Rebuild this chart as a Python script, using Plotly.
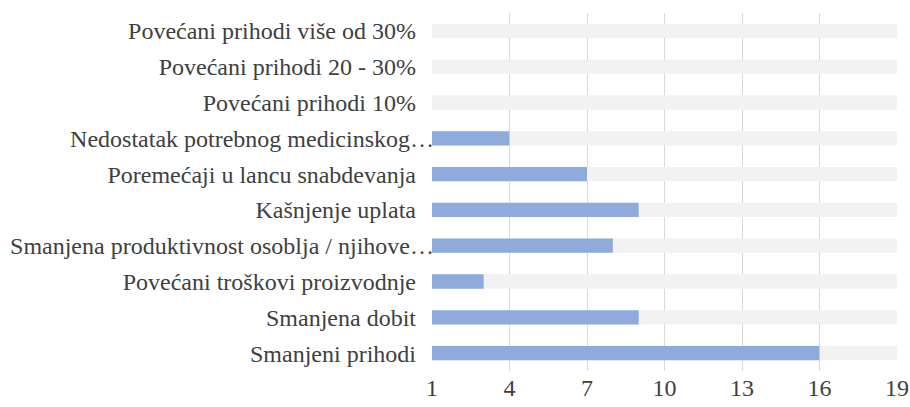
import plotly.graph_objects as go

categories = [
    "Smanjeni prihodi",
    "Smanjena dobit",
    "Povećani troškovi proizvodnje",
    "Smanjena produktivnost osoblja / njihove…",
    "Kašnjenje uplata",
    "Poremećaji u lancu snabdevanja",
    "Nedostatak potrebnog medicinskog…",
    "Povećani prihodi 10%",
    "Povećani prihodi 20 - 30%",
    "Povećani prihodi više od 30%",
]
values = [16, 9, 3, 8, 9, 7, 4, 0, 0, 0]
background_values = [19] * 10
tick_vals = [1, 4, 7, 10, 13, 16, 19]

PAD = "\u00a0" * 3
labels = [c if c.endswith("…") else c + PAD for c in categories]

fig = go.Figure()
fig.add_trace(go.Bar(
    y=labels, x=background_values, orientation="h",
    marker=dict(color="#F2F2F2", line=dict(width=0)),
    width=0.4, hoverinfo="skip", showlegend=False,
))
fig.add_trace(go.Bar(
    y=labels, x=values, orientation="h",
    marker=dict(color="#8FAADC", line=dict(width=0)),
    width=0.4, showlegend=False,
))

font = dict(family="Liberation Serif, Times New Roman, serif", size=24, color="#404040")
fig.update_layout(
    width=910, height=407,
    margin=dict(l=432, r=13, t=13, b=36, autoexpand=False),
    barmode="overlay",
    paper_bgcolor="white", plot_bgcolor="white",
    font=font,
    xaxis=dict(
        range=[1, 19], tickvals=tick_vals, showgrid=True, gridcolor="#D9D9D9",
        gridwidth=1, zeroline=False, showline=False, ticks="", tickfont=font,
        automargin=False, ticklabeloverflow="allow",
    ),
    yaxis=dict(
        categoryorder="array", categoryarray=labels, showgrid=False,
        showline=False, ticks="", tickfont=font, ticklabelstandoff=-3,
        automargin=False,
    ),
)
fig.write_html(
    "out.html",
    config={"displayModeBar": False},
    post_script="document.body.style.margin='0';document.body.style.overflow='hidden';",
)
